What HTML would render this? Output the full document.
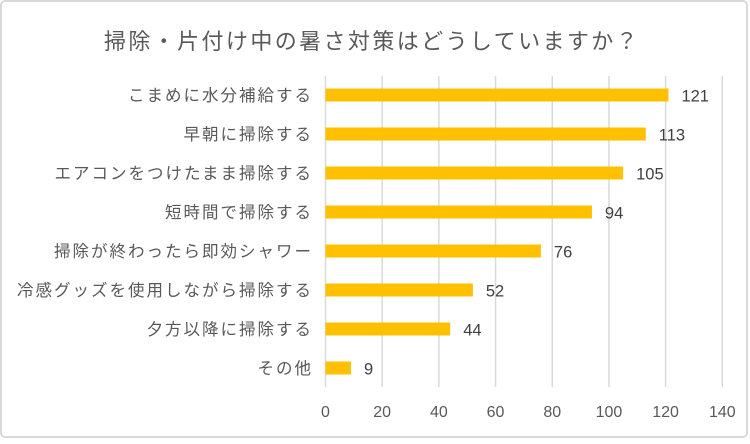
<!DOCTYPE html>
<html><head><meta charset="utf-8"><style>
html,body{margin:0;padding:0;background:#fff;}
#c{position:relative;width:750px;height:439px;}
text{font-family:"Liberation Sans","Noto Sans CJK JP",sans-serif;}
</style></head><body>
<div id="c">
<svg id="s" width="750" height="439">
<rect x="1" y="1" width="746" height="436" rx="4" fill="#fff" stroke="#d9d9d9" stroke-width="2"/>
<text x="372" y="49" text-anchor="middle" font-size="22" letter-spacing="2.4" fill="#595959">掃除・片付け中の暑さ対策はどうしていますか？</text>
<g id="grid"></g><g id="bars"></g>
</svg></div>
<script>
const categories=["こまめに水分補給する","早朝に掃除する","エアコンをつけたまま掃除する","短時間で掃除する","掃除が終わったら即効シャワー","冷感グッズを使用しながら掃除する","夕方以降に掃除する","その他"];
const values=[121,113,105,94,76,52,44,9];
const ticks=[0,20,40,60,80,100,120,140];
const ns="http://www.w3.org/2000/svg";
const x0=325.5,xs=(722.3-325.5)/140,yTop=76,yBot=387,y0=95,step=39,bh=13;
const X=v=>x0+v*xs, Y=i=>y0+i*step;
const grid=document.getElementById('grid'),bars=document.getElementById('bars');
function mk(t,a,p){const e=document.createElementNS(ns,t);for(const k in a)e.setAttribute(k,a[k]);p.appendChild(e);return e;}
ticks.forEach(t=>{
 const l=mk('line',{x1:X(t),x2:X(t),y1:yTop,y2:yBot,stroke:'#d9d9d9','stroke-width':1.5},grid);
 
 
 const tx=mk('text',{x:X(t),y:417,'text-anchor':'middle','font-size':16,fill:'#595959'},grid);
 tx.textContent=t;
 
 
});
categories.forEach((c,i)=>{
 const r=mk('rect',{x:X(0),y:Y(i)-bh/2,width:X(values[i])-X(0),height:bh,fill:'#ffc000'},bars);
 
 
 const lb=mk('text',{x:313,y:Y(i)+6,'text-anchor':'end','font-size':16.5,'letter-spacing':2,fill:'#595959'},bars);
 lb.textContent=c;
 
 
 const v=mk('text',{x:X(values[i])+13,y:Y(i)+6.5,'font-size':16.5,fill:'#404040'},bars);
 v.textContent=values[i];
 
 
});
</script>
</body></html>
